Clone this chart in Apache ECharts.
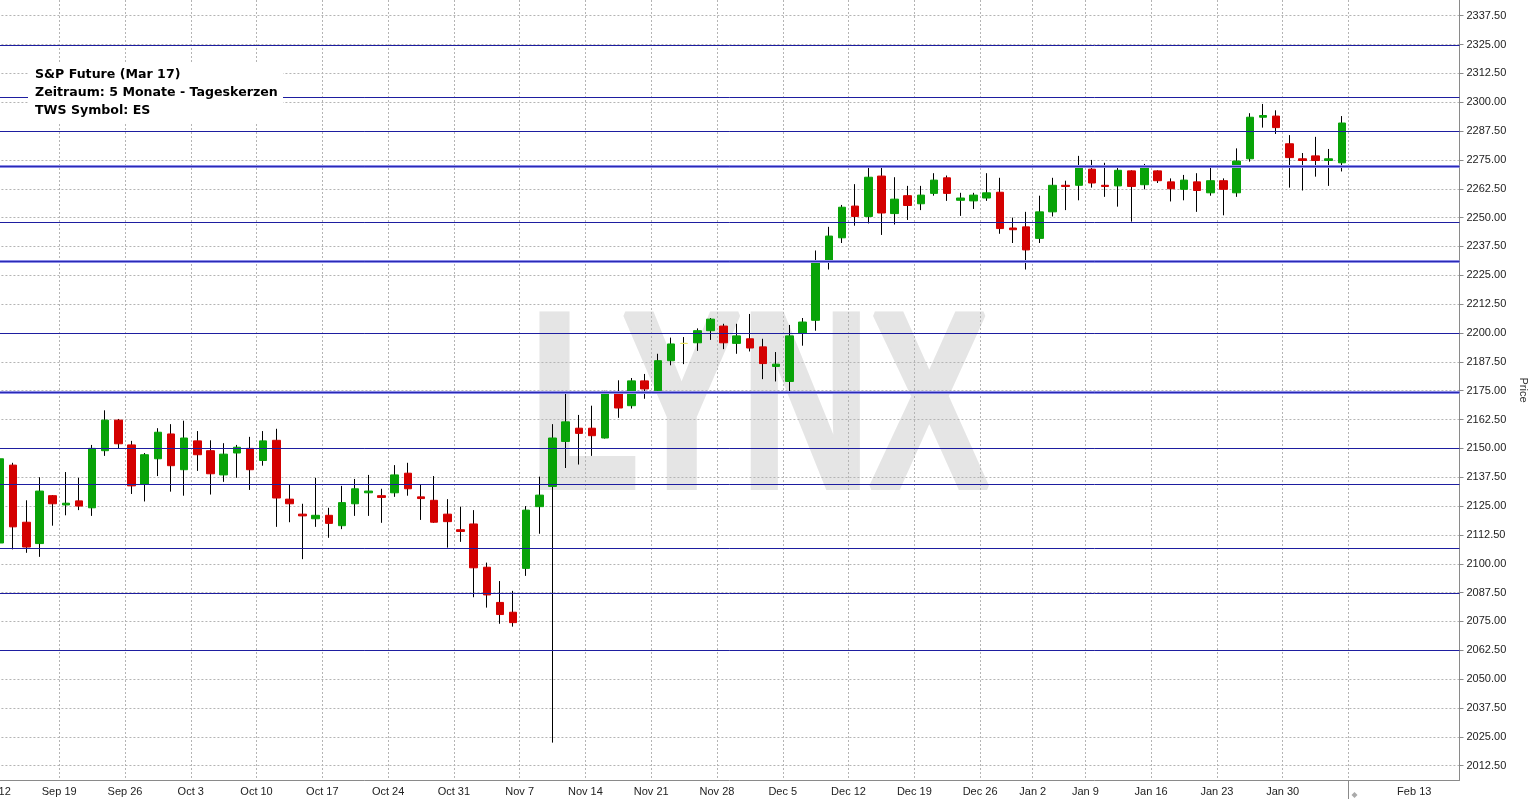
<!DOCTYPE html>
<html><head><meta charset="utf-8">
<script src="https://cdn.jsdelivr.net/npm/echarts@6/dist/echarts.min.js"></script>
<style>html,body{margin:0;padding:0;background:#fff}#c{width:1531px;height:808px}</style>
</head><body><div id="c"></div>
<script>
// ---- categories (trading days) ----
const startDate = '2016-09-12', endDate = '2017-02-03';
const holidays = ['2016-12-26', '2017-01-02'];
const weekStarts = ['2016-09-12','2016-09-19','2016-09-26','2016-10-03','2016-10-10','2016-10-17','2016-10-24','2016-10-31','2016-11-07','2016-11-14','2016-11-21','2016-11-28','2016-12-05','2016-12-12','2016-12-19','2016-12-26','2017-01-02','2017-01-09','2017-01-16','2017-01-23','2017-01-30','2017-02-06','2017-02-13'];
const weekLabels = ['Sep 12','Sep 19','Sep 26','Oct 3','Oct 10','Oct 17','Oct 24','Oct 31','Nov 7','Nov 14','Nov 21','Nov 28','Dec 5','Dec 12','Dec 19','Dec 26','Jan 2','Jan 9','Jan 16','Jan 23','Jan 30','Feb 6','Feb 13'];
const priceTicks = [2012.5,2025,2037.5,2050,2062.5,2075,2087.5,2100,2112.5,2125,2137.5,2150,2162.5,2175,2187.5,2200,2212.5,2225,2237.5,2250,2262.5,2275,2287.5,2300,2312.5,2325,2337.5];

// ---- OHLC values ----
const open = [2109,2142.75,2118,2108.75,2129.5, 2125.5,2127.25,2124.25,2149,2162.25, 2151.5,2134.5,2145.5,2156.25,2140.75, 2153.25,2149,2138.5,2148,2150, 2144.75,2153.5,2128,2121.5,2119.5, 2121,2116.5,2126,2130.75,2129.5, 2130.75,2139.25,2129,2127.5,2121.5, 2114.75,2117.25,2098.5,2083.25,2079, 2098,2124.75,2133.5,2153,2158.75, 2158.75,2154.5,2174,2168.5,2179.25, 2175,2188,2195.5,2195.75,2201, 2203,2195.5,2197.5,2194,2185.5, 2179,2200,2205.5,2231.25,2241.25, 2255,2250.5,2268,2251.75,2259.5, 2256,2260.5,2267.25,2257.5,2257.25, 2258.5,2261,2245.5,2246, 2241,2252.5,2264,2264, 2271,2264,2263.75,2270.25,2264.25, 2270.25,2265.5,2262.25,2265.5,2260.75, 2266,2260.75,2275.5,2293.5,2294, 2282,2275.5,2276.75,2274.75,2273.75];
const high = [2149.25,2143.75,2127.5,2137.5,2129.75, 2139.75,2137.25,2151.5,2166.5,2162.75, 2153.25,2148,2158.75,2160.5,2162, 2157.5,2153.5,2152.25,2151.5,2155, 2157.5,2158.5,2134.5,2126,2137.25, 2124.25,2133.75,2136.75,2138.5,2132.5, 2142.75,2143.75,2134.5,2138,2128, 2124.75,2123.25,2100.5,2092.5,2088.25, 2125,2137.75,2160.5,2174,2164.5, 2168.5,2175,2179.5,2180.5,2182.25, 2191,2198,2198.25,2202,2206.5, 2204,2204,2208.25,2197.5,2191.75, 2203.5,2206.5,2235.75,2246,2255.5, 2264.5,2272.75,2272.5,2267.5,2263.75, 2263.75,2269.25,2268.25,2260.75,2260.75, 2269.25,2267.25,2250,2252.5, 2259.5,2267.25,2266,2276.75, 2275,2273.75,2271.5,2270.5,2273.25, 2270.5,2267,2268.5,2269.25,2272.75, 2267,2280,2295.25,2299.25,2296.5, 2285.75,2278,2285,2279.75,2294];
const low = [2093.75,2106.25,2104.75,2103,2116.5, 2121,2123.25,2120.75,2146.75,2150, 2130.25,2127,2138,2131.25,2129.5, 2140.25,2130,2135.5,2137.25,2132, 2142.5,2116,2118,2102,2116, 2111.25,2115,2120.75,2120.75,2117.75, 2129,2129.5,2119,2117.75,2107, 2109.5,2085.5,2081,2074,2072.75, 2094.75,2113,2022.5,2141.5,2143, 2146.75,2154.25,2163.25,2167.25,2171.5, 2174,2186,2186.5,2192.25,2197, 2193,2191,2192,2180,2179, 2173.75,2194.5,2201,2227.5,2239, 2246.5,2247.5,2242.5,2247,2249, 2253.25,2259.5,2257.25,2250.75,2253.75, 2257.25,2243,2239,2227.5, 2239,2250.5,2253.25,2257.5, 2263,2259,2254.75,2248.25,2262.25, 2265,2257,2257.5,2252.5,2259.5, 2251,2259,2274.25,2289,2286.25, 2263,2261.75,2267.75,2263.75,2270];
const close = [2145.5,2116,2107.25,2131.5,2126, 2126.25,2125,2150,2162.25,2152, 2133.75,2147.25,2157,2142.5,2154.5, 2147.25,2139,2147.5,2150.5,2140.75, 2153.25,2128.5,2126,2120.75,2121, 2117.5,2126.5,2132.5,2131.5,2128.75, 2138.5,2132.5,2128.25,2118,2118.25, 2114,2098.25,2086.5,2078,2074.5, 2123.25,2129.75,2154.5,2161.5,2156.5, 2155.5,2174,2167.5,2179.25,2175.75, 2188,2195.25,2195.5,2201,2206, 2195.75,2198.75,2193.5,2186.75,2186.5, 2198.75,2204.75,2231.25,2242,2254.5, 2250.5,2267.5,2252,2258,2255.25, 2259.75,2266.25,2260.5,2258.5,2259.75, 2260.75,2245.25,2244.75,2236, 2252.5,2264,2263.5,2271.5, 2265,2263.5,2270.5,2263.5,2272.25, 2266,2262.5,2266.25,2261.75,2266, 2262.25,2274.5,2293.5,2294.25,2289, 2276,2274.75,2274.75,2275.5,2291];

// ---- horizontal trend levels ----
const levels = [2325, 2302.25, 2287.5, 2248, 2200, 2150, 2134.5, 2107, 2087.25, 2062.5];
const strongLevels = [2272.5, 2231.25, 2174.25];

// ---- helpers ----
const DAY = 86400000;
const parseD = s => { const [y, m, d] = s.split('-').map(Number); return Date.UTC(y, m - 1, d); };
const fmt = t => new Date(t).toISOString().slice(0, 10);
const isTrading = t => { const wd = new Date(t).getUTCDay(); return wd > 0 && wd < 6 && !holidays.includes(fmt(t)); };
const dates = [];
for (let t = parseD(startDate); t <= parseD(endDate); t += DAY) if (isTrading(t)) dates.push(fmt(t));
const tradingBefore = s => { let n = 0; for (let t = parseD(startDate); t < parseD(s); t += DAY) if (isTrading(t)) n++; return n; };

const weekPos = weekStarts.map(s => tradingBefore(s) - 0.5);
const nowPos = dates.length - 0.5;
const labelMap = {};
weekPos.forEach((p, i) => { labelMap[p.toFixed(1)] = weekLabels[i]; });
const labelPos = weekPos.filter(p => p !== nowPos);

const GREEN = '#08a308', RED = '#d40000', DOJI = '#e6e060';
const wickData = dates.map((d, i) => [i, open[i], close[i], low[i], high[i]]);
const bodyData = dates.map((d, i) => {
  const o = open[i], c = close[i];
  const item = { value: [i, o, c, Math.min(o, c), Math.max(o, c)] };
  if (o === c) item.itemStyle = { color: DOJI, color0: DOJI, borderColor: DOJI, borderColor0: DOJI, borderColorDoji: DOJI };
  return item;
});

// horizontal level lines, placed through the y scale and snapped to the pixel grid
function levelRenderer(width, color, halo) {
  return function (params, api) {
    const y = api.coord([0, api.value(1)])[1];
    const cs = params.coordSys;
    const yy = Math.round(y) + 0.5;
    const children = [];
    if (halo) children.push({ type: 'line', shape: { x1: cs.x, y1: yy, x2: cs.x + cs.width, y2: yy },
      style: { stroke: halo, lineWidth: 3 } });
    children.push({ type: 'line', shape: { x1: cs.x, y1: yy, x2: cs.x + cs.width, y2: yy },
      style: { stroke: color, lineWidth: width } });
    return { type: 'group', children };
  };
}

const viewDays = 111.44;
const yMin = 2006.3, yMax = 2344.3;
const chart = echarts.init(document.getElementById('c'), null, { renderer: 'canvas' });
const infoFont = 'bold 12.6px "DejaVu Sans"';
const option = {
  animation: false,
  backgroundColor: '#ffffff',
  grid: { left: -6.58, right: 71.5, top: 0, bottom: 28, containLabel: false, outerBoundsMode: 'none' },
  xAxis: {
    type: 'value', min: -0.5, max: -0.5 + viewDays,
    axisLine: { show: true, onZero: false, lineStyle: { color: '#8a8a8a', width: 1 } },
    axisTick: { show: false, customValues: weekPos },
    splitLine: { show: true, showMinLine: false, showMaxLine: false, lineStyle: { type: [2, 2], color: '#b4b4b4', width: 1 } },
    axisLabel: { customValues: labelPos, formatter: v => labelMap[v.toFixed(1)] || '', margin: 6,
      color: '#222', fontFamily: 'Liberation Sans', fontSize: 11 }
  },
  yAxis: {
    type: 'value', position: 'right', min: yMin, max: yMax, scale: true,
    axisLine: { show: true, onZero: false, lineStyle: { color: '#8a8a8a', width: 1 } },
    axisTick: { show: true, inside: false, length: 4, customValues: priceTicks, lineStyle: { color: '#8a8a8a' } },
    axisLabel: { customValues: priceTicks, formatter: v => v.toFixed(2), margin: 7,
      color: '#222', fontFamily: 'Liberation Sans', fontSize: 11 },
    splitLine: { show: true, lineStyle: { type: [2, 2], color: '#b4b4b4', width: 1 } },
    name: 'Price', nameLocation: 'middle', nameRotate: -90, nameGap: 46,
    nameTextStyle: { color: '#333', fontFamily: 'Liberation Sans', fontSize: 11 }
  },
  series: [
    { type: 'candlestick', name: 'wick', data: wickData, barWidth: 1, z: 2, silent: true,
      itemStyle: { color: '#000', color0: '#000', borderColor: '#000', borderColor0: '#000', borderColorDoji: '#000', borderWidth: 1 } },
    { type: 'candlestick', name: 'body', data: bodyData, barWidth: 8, z: 3, silent: true,
      itemStyle: { color: GREEN, color0: RED, borderColor: GREEN, borderColor0: RED, borderColorDoji: GREEN, borderWidth: 1 } },
    { type: 'custom', name: 'levels', silent: true, z: 4, clip: true,
      data: levels.map(v => [0, v]), renderItem: levelRenderer(1, '#1e1ea0', null) },
    { type: 'custom', name: 'strongLevels', silent: true, z: 5, clip: true,
      data: strongLevels.map(v => [0, v]), renderItem: levelRenderer(1, '#2a2ab4', '#8c8ce8') }
  ],
  graphic: [
    { id: 'wm', type: 'text', z: -1, x: 529.7, y: 418, scaleX: 0.7126,
      style: { text: 'LYNX', font: 'bold 250px "Liberation Sans"', fill: '#e5e5e5', stroke: '#e5e5e5', lineWidth: 6, lineJoin: 'miter', align: 'left', verticalAlign: 'middle' } },
    { id: 'infoBg', type: 'rect', z: 100, shape: { x: 28, y: 64, width: 255, height: 58 }, style: { fill: '#ffffff', stroke: null } },
    { id: 'info1', type: 'text', z: 101, x: 35, y: 75, style: { text: 'S&P Future (Mar 17)', font: infoFont, fill: '#000', verticalAlign: 'middle' } },
    { id: 'info2', type: 'text', z: 101, x: 35, y: 93, style: { text: 'Zeitraum: 5 Monate - Tageskerzen', font: infoFont, fill: '#000', verticalAlign: 'middle' } },
    { id: 'info3', type: 'text', z: 101, x: 35, y: 111, style: { text: 'TWS Symbol: ES', font: infoFont, fill: '#000', verticalAlign: 'middle' } }
  ]
};
chart.setOption(option);
// "now" marker under the x axis at the boundary after the last bar
const nowPx = chart.convertToPixel({ gridIndex: 0 }, [nowPos, yMin]);
const mx = Math.round(nowPx[0]) + 0.5, my = nowPx[1];
chart.setOption({ graphic: [
  { id: 'nowLine', type: 'line', z: 50, shape: { x1: mx, y1: my, x2: mx, y2: my + 19 }, style: { stroke: '#8a8a8a', lineWidth: 1 } },
  { id: 'nowMark', type: 'polygon', z: 50, shape: { points: [[mx + 3, my + 15], [mx + 6, my + 12], [mx + 9, my + 15], [mx + 6, my + 18]] }, style: { fill: '#aaaaaa' } }
] });
</script></body></html>
